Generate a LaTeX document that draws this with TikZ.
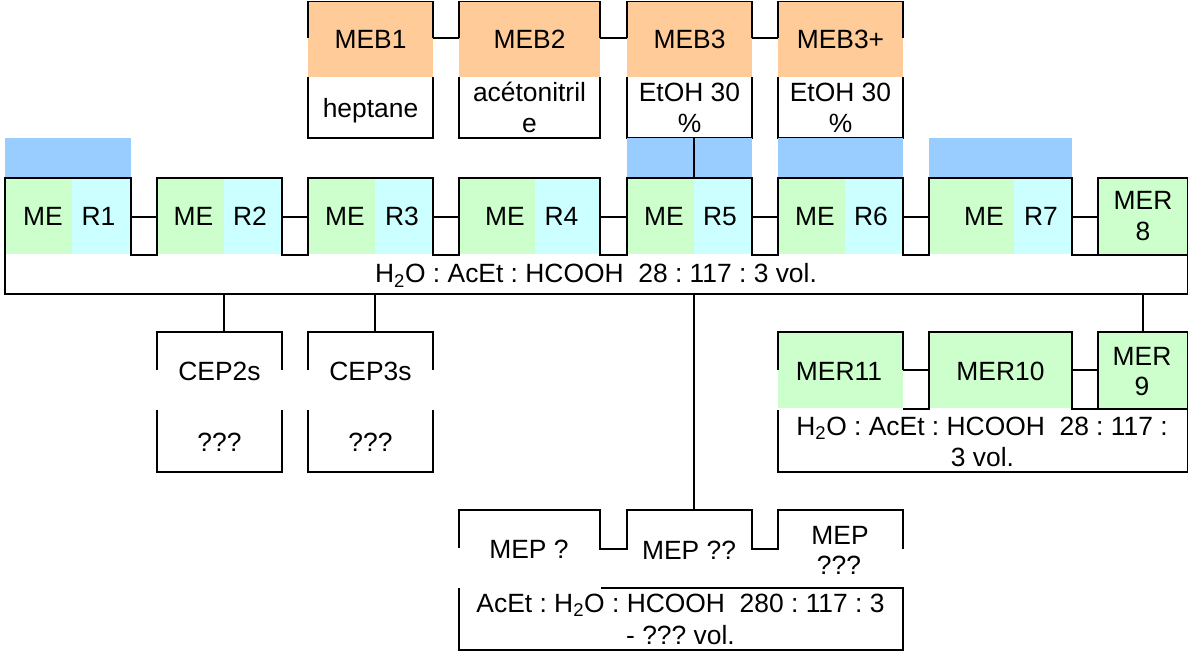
\documentclass[tikz,border=0pt]{standalone}
\usepackage{fontspec}
\setmainfont{Liberation Sans}
\definecolor{orng}{HTML}{FFCC99}
\definecolor{grn}{HTML}{CCFFCC}
\definecolor{cyn}{HTML}{CCFFFF}
\definecolor{blu}{HTML}{99CCFF}
\newcommand\lblfont{\fontsize{19.8}{24}\selectfont\frenchspacing}
\tikzset{
  ln/.style={line width=1pt},
  lbl/.style={font=\lblfont, inner sep=0pt, anchor=base},
}
\begin{document}
\frenchspacing
\begin{tikzpicture}[x=0.75pt,y=-0.75pt]
\fill[white] (0,0) rectangle (1189,652);
\useasboundingbox (0,0) rectangle (1189,652);

% ---------- MEB boxes (top row)
\foreach \L/\R/\n in {308/433/1,459/600/2,627/752/3,778/903/4}{
  \fill[orng] (\L,1) rectangle (\R,77);
  \draw[ln] (\L,38) -- (\L,1.5) -- (\R,1.5) -- (\R,38);
  \draw[ln] (\L,77) -- (\L,138) -- (\R,138) -- (\R,77);
  \coordinate (meb\n W) at (\L,38);
  \coordinate (meb\n E) at (\R,38);
}
\draw[ln] (meb1E) -- (meb2W);
\draw[ln] (meb2E) -- (meb3W);
\draw[ln] (meb3E) -- (meb4W);

\node[lbl] (tMEB1) at (370.5,49) {MEB1};
\node[lbl] (tMEB2) at (529.5,49) {MEB2};
\node[lbl] (tMEB3) at (689.5,49) {MEB3};
\node[lbl] (tMEB4) at (840.5,49) {MEB3+};
\node[lbl] (tHep) at (370.5,118) {heptane};
\node[lbl] (tAce1) at (529.5,102) {acétonitril};
\node[lbl] (tAce2) at (529.5,133) {e};
\node[lbl] (tEt1a) at (689.5,102) {EtOH 30};
\node[lbl] (tEt1b) at (689.5,133) {\%};
\node[lbl] (tEt2a) at (840.5,102) {EtOH 30};
\node[lbl] (tEt2b) at (840.5,133) {\%};

% ---------- blue bars
\fill[blu] (5,138) rectangle (131,177);
\fill[blu] (627,138) rectangle (752,177);
\fill[blu] (778,138) rectangle (903,177);
\fill[blu] (929,138) rectangle (1072,177);
\coordinate (meb3S) at (694,138);
\coordinate (r5N) at (694,178);
\draw[ln] (meb3S) -- (r5N);

% ---------- ME / R row
\foreach \L/\S/\R in {5/72/131,157/224/282,308/375/433,459/535/600,627/694/752,778/845/903,929/1014/1072}{
  \fill[grn] (\L,178) rectangle (\S,254);
  \fill[cyn] (\S,178) rectangle (\R,254);
}
\fill[grn] (1098,178) rectangle (1188,254);
\draw[ln] (5,294) -- (5,178) -- (131,178) -- (131,255) -- (157,255) -- (157,178)
  -- (282,178) -- (282,255) -- (308,255) -- (308,178) -- (433,178) -- (433,255)
  -- (459,255) -- (459,178) -- (600,178) -- (600,255) -- (627,255) -- (627,178)
  -- (752,178) -- (752,255) -- (778,255) -- (778,178) -- (903,178) -- (903,255)
  -- (929,255) -- (929,178) -- (1072,178) -- (1072,255) -- (1098,255) -- (1098,178)
  -- (1187.5,178) -- (1187.5,294) -- cycle;
\draw[ln] (1098,255) -- (1187.5,255);
\foreach \a/\b/\n in {131/157/1,282/308/2,433/459/3,600/627/4,752/778/5,903/929/6,1072/1098/7}{
  \coordinate (rc\n a) at (\a,217);
  \coordinate (rc\n b) at (\b,217);
  \draw[ln] (rc\n a) -- (rc\n b);
}
\node[lbl] (me1) at (43,226) {ME};   \node[lbl] (r1) at (98.5,226) {R1};
\node[lbl] (me2) at (193.5,226) {ME}; \node[lbl] (r2) at (250,226) {R2};
\node[lbl] (me3) at (345,226) {ME};   \node[lbl] (r3) at (402,226) {R3};
\node[lbl] (me4) at (505,226) {ME};   \node[lbl] (r4) at (561.5,226) {R4};
\node[lbl] (me5) at (664,226) {ME};   \node[lbl] (r5) at (720,226) {R5};
\node[lbl] (me6) at (815,226) {ME};   \node[lbl] (r6) at (871,226) {R6};
\node[lbl] (me7) at (984,226) {ME};   \node[lbl] (r7) at (1041,226) {R7};
\node[lbl] (mer8a) at (1143,210) {MER};
\node[lbl] (mer8b) at (1143,241) {8};
\node[lbl] (solv1) at (596,283) {H\textsubscript{2}O : AcEt : HCOOH\ \ 28 : 117 : 3 vol.};

% ---------- links down
\coordinate (bigS1) at (224,294);  \coordinate (cep2N) at (224,332);
\coordinate (bigS2) at (375,294);  \coordinate (cep3N) at (375,332);
\coordinate (bigS3) at (694,294);  \coordinate (mep2N) at (694,510);
\coordinate (bigS4) at (1143,294); \coordinate (mer9N) at (1143,332);
\draw[ln] (bigS1) -- (cep2N);
\draw[ln] (bigS2) -- (cep3N);
\draw[ln] (bigS3) -- (mep2N);
\draw[ln] (bigS4) -- (mer9N);

% ---------- CEP boxes
\foreach \L/\R in {157/282,308/433}{
  \draw[ln] (\L,370) -- (\L,332) -- (\R,332) -- (\R,370);
  \draw[ln] (\L,410) -- (\L,472) -- (\R,472) -- (\R,410);
}
\node[lbl] (cep2) at (219.5,380) {CEP2s};
\node[lbl] (cep2q) at (219.5,451) {???};
\node[lbl] (cep3) at (370.5,380) {CEP3s};
\node[lbl] (cep3q) at (370.5,451) {???};

% ---------- MER 9-11 group
\fill[grn] (778,332) rectangle (903,408);
\fill[grn] (929,332) rectangle (1072,408);
\fill[grn] (1098,332) rectangle (1188,408);
\draw[ln] (778,370) -- (778,332) -- (903,332) -- (903,370);
\draw[ln] (903,409) -- (929,409) -- (929,332) -- (1072,332) -- (1072,409)
  -- (1098,409) -- (1098,332) -- (1187.5,332) -- (1187.5,472) -- (778,472) -- (778,410);
\draw[ln] (1098,409) -- (1187.5,409);
\coordinate (m11E) at (903,370);  \coordinate (m10W) at (929,370);
\coordinate (m10E) at (1072,370); \coordinate (m9W) at (1098,370);
\draw[ln] (m11E) -- (m10W);
\draw[ln] (m10E) -- (m9W);
\node[lbl] (mer11) at (839,380) {MER11};
\node[lbl] (mer10) at (1000.5,380) {MER10};
\node[lbl] (mer9a) at (1142,365) {MER};
\node[lbl] (mer9b) at (1142,395) {9};
\node[lbl] (solv2a) at (982,435.5) {H\textsubscript{2}O : AcEt : HCOOH\ \ 28 : 117 :};
\node[lbl] (solv2b) at (982.5,466) {3 vol.};

% ---------- MEP group
\draw[ln] (459,548) -- (459,510) -- (600,510) -- (600,549) -- (627,549) -- (627,510)
  -- (752,510) -- (752,549) -- (778,549) -- (778,510) -- (903,510) -- (903,549);
\draw[ln] (601,588) -- (903,588) -- (903,650) -- (459,650) -- (459,588);
\node[lbl] (mep1) at (529,558) {MEP ?};
\node[lbl] (mep2) at (689,559) {MEP ??};
\node[lbl] (mep3a) at (840,544) {MEP};
\node[lbl] (mep3b) at (839,574) {???};
\node[lbl] (solv3a) at (680.5,612) {AcEt : H\textsubscript{2}O : HCOOH\ \ 280 : 117 : 3};
\node[lbl] (solv3b) at (680.5,644.5) {- ??? vol.};
\end{tikzpicture}
\end{document}
